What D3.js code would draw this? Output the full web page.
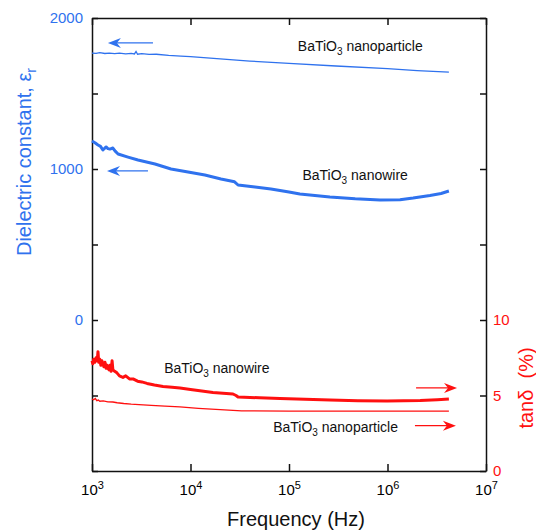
<!DOCTYPE html>
<html lang="en">
	<head>
		<meta charset="utf-8">
		<title>BaTiO3 dielectric spectra</title>
		<style type="text/css">
			body {
				margin: 0;
				background: white;
			}
			text {
				font-family: "Liberation Sans", Arial, sans-serif;
			}
		</style>
		<script type="text/javascript" src="https://cdn.jsdelivr.net/npm/d3@7"></script>
	</head>
	<body>
		<script type="text/javascript">
			// Data (frequency in Hz).

			// Dielectric constant, nanowire (left axis)
			var wireEpsFreq = [1000, 1080, 1150, 1220, 1290, 1390, 1450, 1520, 1630, 1720, 1840, 2320, 2930, 4360, 6340, 9440, 14000, 20400, 28000, 30400, 45200, 65600, 100000, 129000, 260000, 470000, 840000, 1340000, 1820000, 2700000, 3500000, 4200000];
			var wireEps = [1185, 1172, 1159, 1150, 1126, 1146, 1135, 1132, 1139, 1118, 1099, 1079, 1060, 1033, 1000, 980, 960, 934, 915, 894, 881, 868, 848, 834, 815, 803, 795, 797, 808, 825, 838, 854];

			// Dielectric constant, nanoparticle (left axis)
			var partEpsFreq = [1000, 1100, 1200, 1350, 1500, 1700, 1900, 2200, 2500, 2700, 2800, 2900, 3200, 3800, 4500, 6000, 8000, 10000, 20000, 40000, 100000, 300000, 1000000, 2000000, 4200000];
			var partEps = [1768, 1766, 1770, 1765, 1768, 1764, 1767, 1763, 1766, 1762, 1778, 1760, 1764, 1759, 1760, 1752, 1748, 1744, 1729, 1715, 1700, 1682, 1665, 1652, 1642];

			// tan delta (%), nanowire (right axis)
			var wireTanFreq = [1000, 1020, 1040, 1070, 1100, 1130, 1150, 1170, 1200, 1230, 1260, 1290, 1320, 1355, 1390, 1420, 1450, 1490, 1520, 1560, 1600, 1630, 1700, 1790, 1900, 2060, 2200, 2400, 2610, 2900, 3200, 3620, 4300, 5260, 6500, 7820, 10000, 16900, 27000, 29000, 30400, 50000, 81000, 261000, 500000, 990000, 2150000, 3200000, 4200000];
			var wireTan = [7.3, 7.1, 7.4, 7.2, 7.5, 7.3, 7.9, 7.2, 7.4, 7.0, 7.3, 7.1, 6.9, 7.2, 6.8, 7.0, 6.8, 6.7, 7.0, 6.6, 7.3, 6.7, 6.6, 6.5, 6.3, 6.2, 6.3, 6.1, 6.1, 5.95, 5.9, 5.8, 5.7, 5.6, 5.55, 5.5, 5.4, 5.2, 5.1, 5.0, 4.9, 4.85, 4.8, 4.7, 4.66, 4.64, 4.67, 4.72, 4.77];

			// tan delta (%), nanoparticle (right axis)
			var partTanFreq = [1000, 1040, 1080, 1120, 1160, 1200, 1300, 1450, 1630, 1800, 2100, 2500, 3000, 4000, 5500, 7800, 12000, 20000, 33000, 100000, 1000000, 4200000];
			var partTan = [4.77, 4.72, 4.80, 4.66, 4.70, 4.62, 4.64, 4.58, 4.57, 4.52, 4.47, 4.43, 4.40, 4.35, 4.30, 4.24, 4.15, 4.06, 3.98, 3.97, 3.97, 3.97];

			// Axis ticks
			var freqTicks = [1e3, 1e4, 1e5, 1e6, 1e7];
			var epsTicks = [-1000, -500, 0, 500, 1000, 1500, 2000];
			var epsLabels = [0, 1000, 2000];
			var tanTicks = [0, 5, 10, 15, 20, 25, 30];
			var tanLabels = [0, 5, 10];

			var blue = "#2f72ee";
			var red = "#ff1010";

			// Page and plot box
			var w = 536;
			var h = 532;
			var plotLeft = 92, plotRight = 486, plotTop = 18, plotBottom = 471;

			var svg = d3.select("body")
						.append("svg")
						.attr("width", w)
						.attr("height", h);

			var x = d3.scaleLog().domain([1e3, 1e7]).range([plotLeft, plotRight]);
			var yL = d3.scaleLinear().domain([-1000, 2000]).range([plotBottom, plotTop]);
			var yR = d3.scaleLinear().domain([0, 30]).range([plotBottom, plotTop]);

			function zip(fs, vs) {
				return fs.map(function(f, i) { return [f, vs[i]]; });
			}

			// Axes, all ticks pointing inwards
			var gBottom = svg.append("g")
				.attr("transform", "translate(0," + plotBottom + ")")
				.call(d3.axisBottom(x).tickValues(freqTicks).tickSize(-7).tickSizeOuter(0).tickFormat(""));
			gBottom.selectAll(".tick text").remove();
			gBottom.selectAll(".tick").append("text")
				.attr("y", 24)
				.attr("fill", "black")
				.attr("text-anchor", "middle")
				.style("font-size", "15px")
				.each(function(d) {
					var t = d3.select(this);
					t.append("tspan").text("10");
					t.append("tspan").attr("dy", -6).style("font-size", "11px").text(Math.round(Math.log10(d)));
				});

			svg.append("g")
				.attr("transform", "translate(0," + plotTop + ")")
				.call(d3.axisTop(x).tickValues(freqTicks).tickSize(-7).tickSizeOuter(0).tickFormat(""));

			svg.append("g")
				.attr("transform", "translate(" + plotLeft + ",0)")
				.call(d3.axisLeft(yL).tickValues(epsTicks).tickSize(-6).tickSizeOuter(0).tickPadding(9)
					.tickFormat(function(d) { return epsLabels.indexOf(d) >= 0 ? d : ""; }))
				.selectAll("text")
				.attr("fill", blue)
				.style("font-size", "15px");

			svg.append("g")
				.attr("transform", "translate(" + plotRight + ",0)")
				.call(d3.axisRight(yR).tickValues(tanTicks).tickSize(-6).tickSizeOuter(0).tickPadding(7)
					.tickFormat(function(d) { return tanLabels.indexOf(d) >= 0 ? d : ""; }))
				.selectAll("text")
				.attr("fill", red)
				.style("font-size", "15px");

			svg.selectAll(".domain, .tick line")
				.attr("stroke", "#111")
				.attr("stroke-width", 1.5);

			// Curves
			var lineL = d3.line().x(function(d) { return x(d[0]); }).y(function(d) { return yL(d[1]); });
			var lineR = d3.line().x(function(d) { return x(d[0]); }).y(function(d) { return yR(d[1]); });

			svg.append("path").datum(zip(partEpsFreq, partEps))
				.attr("d", lineL).attr("fill", "none").attr("stroke", blue).attr("stroke-width", 1.3);
			svg.append("path").datum(zip(wireEpsFreq, wireEps))
				.attr("d", lineL).attr("fill", "none").attr("stroke", blue).attr("stroke-width", 3).attr("stroke-linejoin", "round");
			svg.append("path").datum(zip(partTanFreq, partTan))
				.attr("d", lineR).attr("fill", "none").attr("stroke", red).attr("stroke-width", 1.3);
			svg.append("path").datum(zip(wireTanFreq, wireTan))
				.attr("d", lineR).attr("fill", "none").attr("stroke", red).attr("stroke-width", 3).attr("stroke-linejoin", "round");

			// Arrows pointing to the matching axis
			function arrow(x1, x2, y, color) {
				var dir = x2 > x1 ? 1 : -1;
				svg.append("line")
					.attr("x1", x1).attr("x2", x2 - dir * 6)
					.attr("y1", y).attr("y2", y)
					.attr("stroke", color).attr("stroke-width", 1.3);
				svg.append("path")
					.attr("d", "M" + x2 + "," + y + "L" + (x2 - dir * 13) + "," + (y - 5) +
						"L" + (x2 - dir * 9) + "," + y + "L" + (x2 - dir * 13) + "," + (y + 5) + "Z")
					.attr("fill", color);
			}
			arrow(x(4160), x(1450), yL(1835), blue);
			arrow(x(3700), x(1420), yL(987), blue);
			arrow(x(1.95e6), x(5.08e6), yR(5.5), red);
			arrow(x(1.9e6), x(4.95e6), yR(3.0), red);

			// Sample labels
			function label(px, py, name) {
				var t = svg.append("text")
					.attr("x", px).attr("y", py)
					.attr("fill", "#111")
					.style("font-size", "14px");
				t.append("tspan").text("BaTiO");
				t.append("tspan").attr("dy", 4).style("font-size", "10px").text("3");
				t.append("tspan").attr("dy", -4).text(" " + name);
			}
			label(x(1.23e5), yL(1781), "nanoparticle");
			label(x(1.37e5), yL(927), "nanowire");
			label(x(5.4e3), yR(6.5), "nanowire");
			label(x(6.9e4), yR(2.58), "nanoparticle");

			// Axis titles
			var yt = svg.append("text")
				.attr("transform", "translate(31,162) rotate(-90)")
				.attr("text-anchor", "middle")
				.attr("fill", blue)
				.style("font-size", "20px");
			yt.append("tspan").text("Dielectric constant, ε");
			yt.append("tspan").attr("dy", 5).style("font-size", "14px").text("r");

			svg.append("text")
				.attr("transform", "translate(533,388) rotate(-90)")
				.attr("text-anchor", "middle")
				.attr("fill", red)
				.style("font-size", "20px")
				.style("white-space", "pre")
				.text("tanδ  (%)");

			svg.append("text")
				.attr("x", 296).attr("y", 526)
				.attr("text-anchor", "middle")
				.attr("fill", "#111")
				.style("font-size", "20px")
				.text("Frequency (Hz)");
		</script>
	</body>
</html>
